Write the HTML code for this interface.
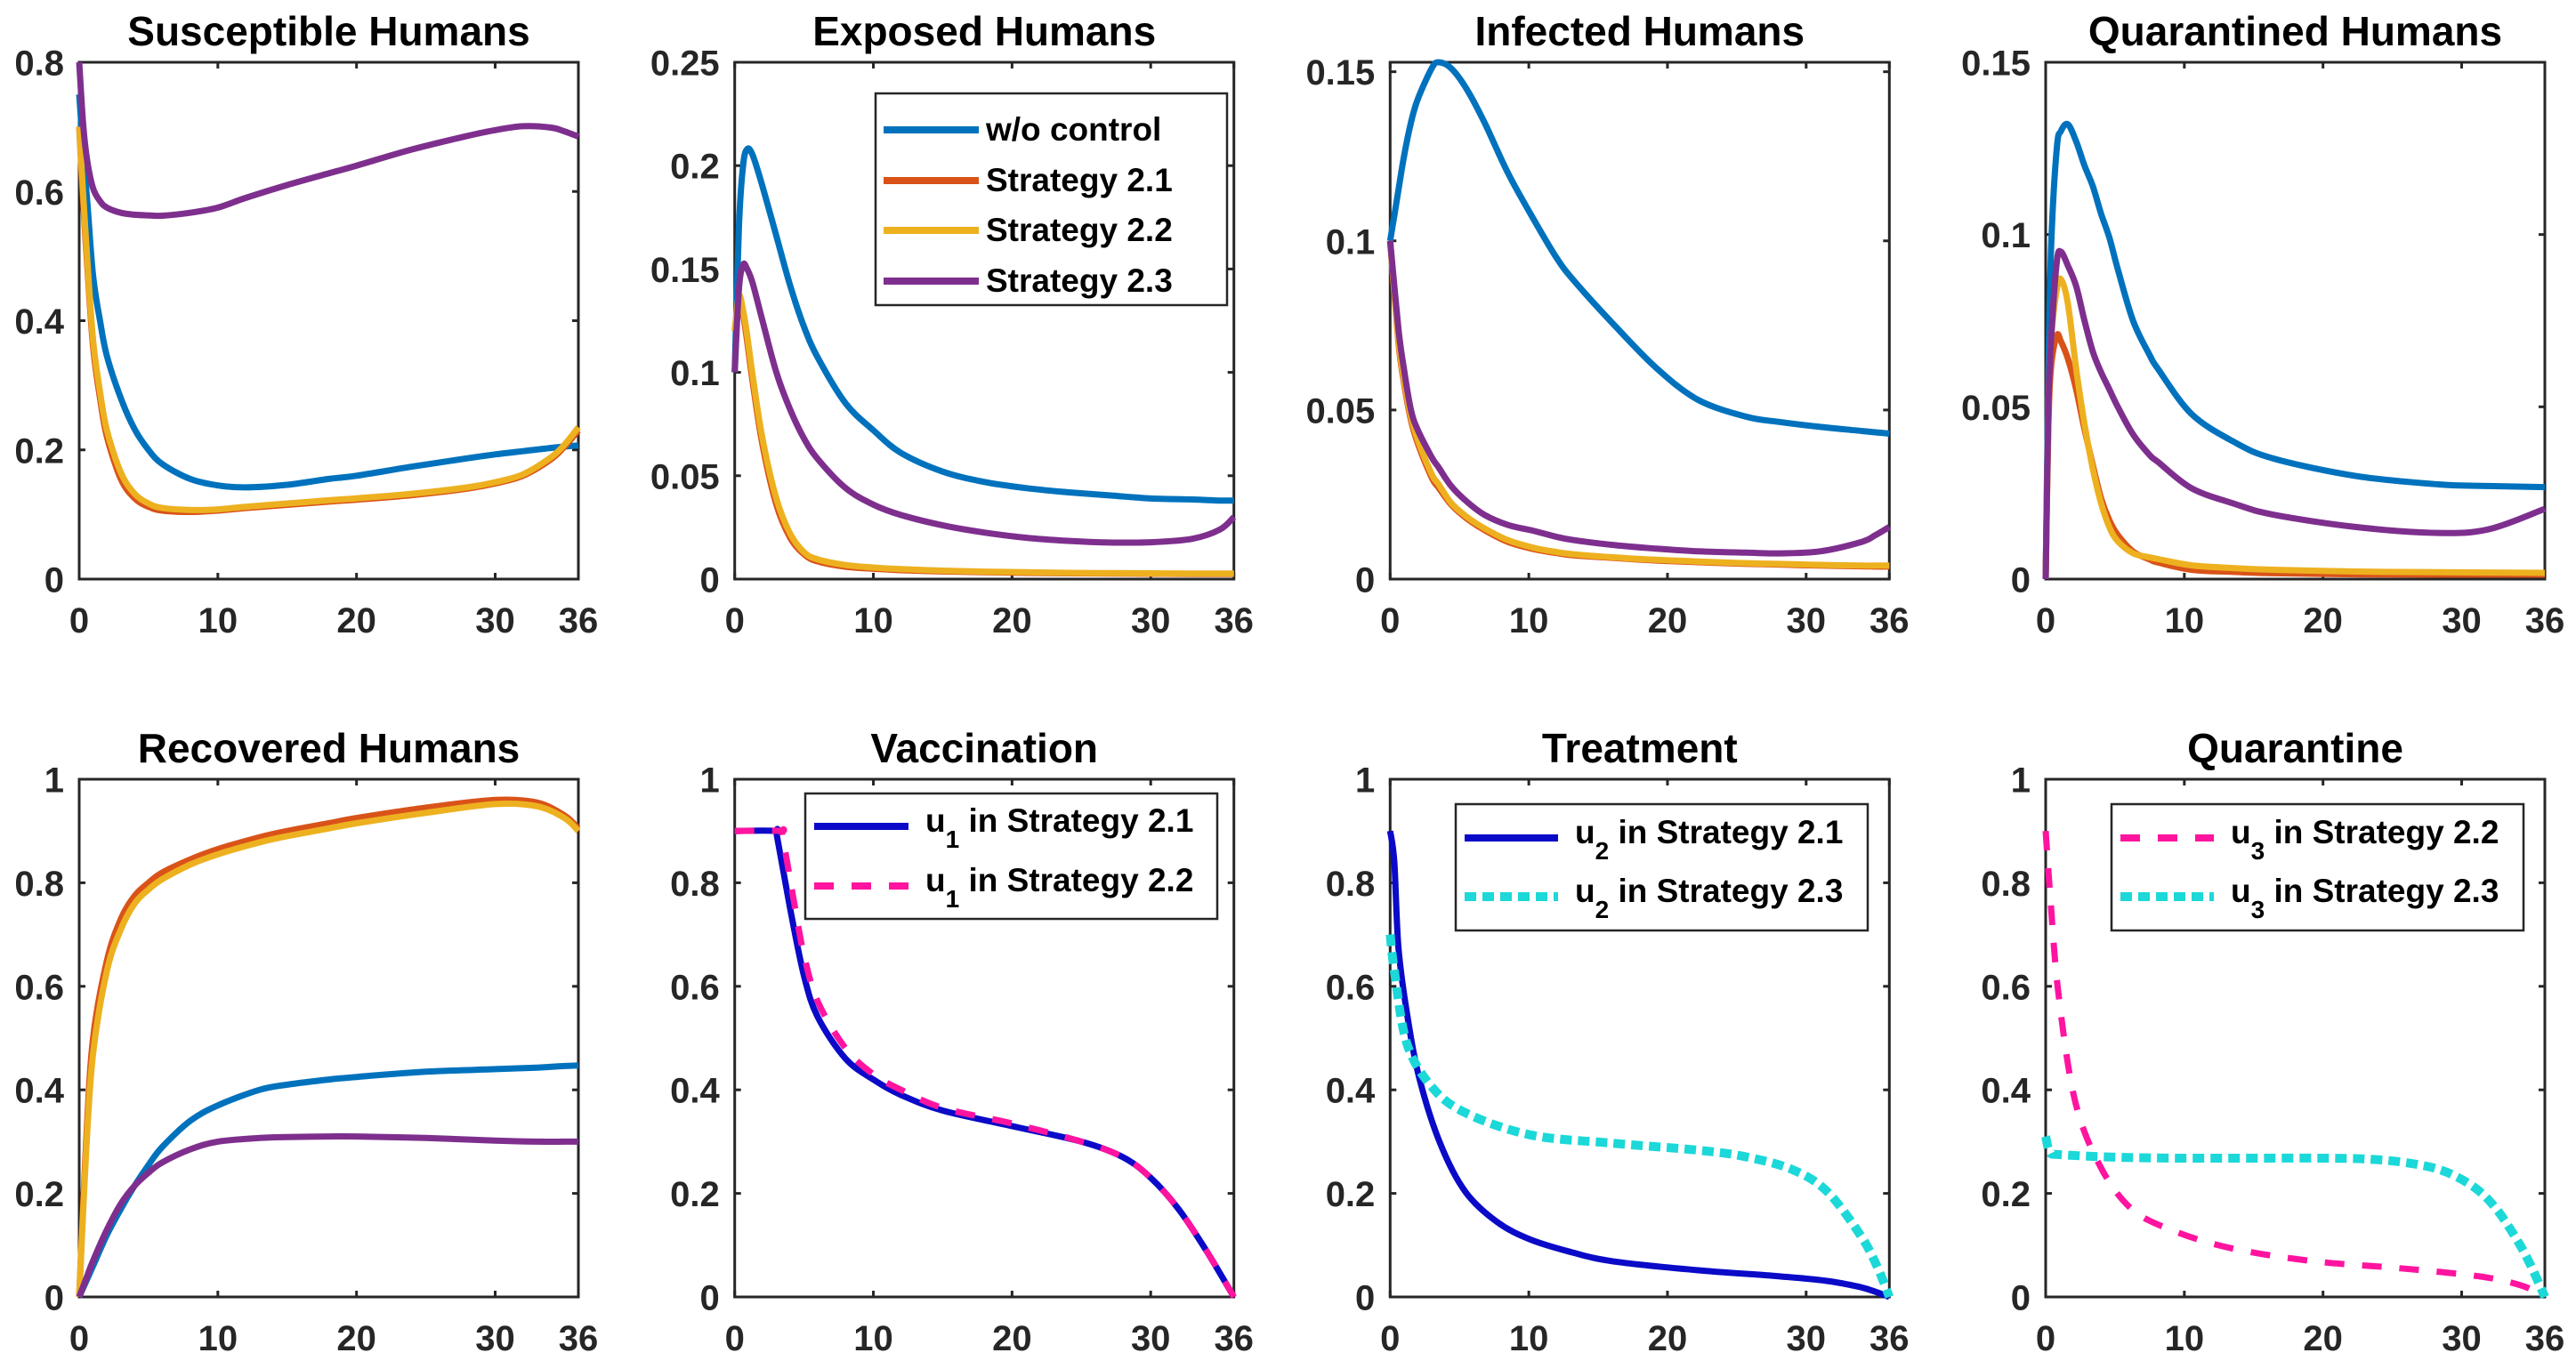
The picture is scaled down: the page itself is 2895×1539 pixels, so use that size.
<!DOCTYPE html>
<html><head><meta charset="utf-8">
<style>
html,body{margin:0;padding:0;background:#fff;}
svg{display:block;font-family:"Liberation Sans",Arial,sans-serif;font-weight:bold;}
</style></head>
<body>
<svg id="fig" width="2895" height="1539" viewBox="0 0 2895 1539" xmlns="http://www.w3.org/2000/svg"></svg>
<script>
// ---------- data ----------
const xTicks = [0,10,20,30,36];
const sT  = [0,0.3,0.6,1,1.5,2,3,4,5,6,8,10,12,15,18,20,24,28,30,32,34,35,36];
const sBlue   = [0.75,0.66,0.58,0.47,0.4,0.345,0.28,0.232,0.2,0.178,0.155,0.145,0.142,0.146,0.155,0.16,0.174,0.187,0.193,0.198,0.203,0.205,0.207];
const sOrange = [0.7,0.58,0.48,0.36,0.28,0.22,0.155,0.125,0.112,0.106,0.104,0.106,0.11,0.115,0.12,0.123,0.13,0.14,0.148,0.16,0.185,0.205,0.23];
const sYellow = [0.7,0.59,0.49,0.37,0.29,0.23,0.165,0.132,0.117,0.11,0.107,0.108,0.112,0.117,0.122,0.125,0.132,0.142,0.15,0.162,0.188,0.208,0.235];
const sPurple = [0.8,0.7,0.645,0.605,0.585,0.575,0.567,0.564,0.563,0.5625,0.567,0.575,0.59,0.61,0.628,0.64,0.665,0.686,0.695,0.701,0.699,0.693,0.685];

const eT = [0,0.3,0.6,0.9,1.3,2,3,4,5,6,8,10,12,15,18,21,24,27,30,33,35,36];
const eBlue   = [0.1,0.17,0.2,0.208,0.205,0.19,0.166,0.142,0.122,0.107,0.085,0.072,0.061,0.052,0.047,0.044,0.042,0.0405,0.039,0.0385,0.038,0.038];
const eOrange = [0.12,0.135,0.128,0.115,0.095,0.065,0.036,0.02,0.012,0.0085,0.006,0.005,0.0043,0.0037,0.0033,0.003,0.0028,0.0027,0.0026,0.0025,0.0025,0.0025];
const eYellow = [0.12,0.137,0.13,0.118,0.098,0.068,0.039,0.022,0.013,0.0095,0.0068,0.0056,0.0048,0.0041,0.0036,0.0033,0.003,0.0029,0.0028,0.0027,0.0027,0.0027];
const ePurple = [0.1,0.14,0.152,0.15,0.143,0.125,0.1,0.082,0.068,0.058,0.044,0.036,0.031,0.026,0.0225,0.02,0.0185,0.0177,0.0178,0.0195,0.024,0.03];

const iT = [0,0.6,1,1.5,2,3,3.5,4.4,5.5,6.8,8.5,10.4,12,13.3,16.3,19.2,22.2,25.7,28,31,34,35,36];
const iBlue   = [0.1,0.115,0.125,0.135,0.142,0.151,0.1528,0.151,0.145,0.135,0.12,0.106,0.095,0.088,0.0745,0.0624,0.053,0.048,0.0465,0.045,0.0438,0.0434,0.043];
const iOrange = [0.1,0.07,0.058,0.047,0.04,0.03,0.027,0.022,0.018,0.0145,0.011,0.0088,0.0077,0.007,0.0062,0.0055,0.005,0.0045,0.0043,0.004,0.0038,0.0037,0.0037];
const iYellow = [0.1,0.071,0.059,0.048,0.041,0.031,0.028,0.0225,0.0185,0.015,0.0115,0.0092,0.008,0.0073,0.0064,0.0057,0.0052,0.0047,0.0045,0.0042,0.004,0.004,0.004];
const iPurple = [0.1,0.074,0.062,0.05,0.044,0.036,0.033,0.0275,0.023,0.019,0.016,0.0142,0.0125,0.0115,0.01,0.009,0.0082,0.0078,0.0076,0.0082,0.011,0.013,0.0154];

const qT = [0,0.2,0.4,0.8,1.1,1.6,2.2,2.8,3.4,4,4.6,5.2,6.3,7.5,8.1,10.5,13.5,16.4,22.4,28.3,32,36];
const qBlue   = [0,0.06,0.097,0.125,0.13,0.132,0.127,0.12,0.114,0.106,0.099,0.09,0.075,0.065,0.061,0.048,0.04,0.035,0.0299,0.0275,0.027,0.0267];
const qOrange = [0,0.045,0.062,0.0707,0.069,0.064,0.055,0.0435,0.033,0.0234,0.017,0.0128,0.008,0.0057,0.0048,0.0027,0.0021,0.0017,0.0014,0.0013,0.0013,0.0013];
const qYellow = [0,0.05,0.07,0.084,0.087,0.08,0.061,0.045,0.032,0.022,0.015,0.011,0.0075,0.0063,0.0058,0.004,0.0032,0.0027,0.0022,0.002,0.0019,0.0018];
const qPurple = [0,0.05,0.07,0.092,0.095,0.091,0.085,0.075,0.066,0.06,0.055,0.05,0.042,0.036,0.034,0.0264,0.022,0.0187,0.0151,0.0134,0.0145,0.0204];

const rT = [0,0.5,1,2,3,4,5,6,8,10,13,15,18,20,25,30,33,35,36];
const rOrange = [0,0.3,0.5,0.65,0.73,0.775,0.8,0.82,0.845,0.865,0.888,0.9,0.915,0.925,0.945,0.96,0.955,0.93,0.905];
const rYellow = [0,0.28,0.47,0.63,0.71,0.76,0.787,0.807,0.835,0.855,0.878,0.89,0.905,0.915,0.935,0.952,0.948,0.925,0.9];
const rBlue   = [0,0.03,0.06,0.12,0.17,0.215,0.255,0.29,0.34,0.37,0.4,0.41,0.42,0.425,0.435,0.44,0.443,0.446,0.447];
const rPurple = [0,0.035,0.07,0.13,0.18,0.215,0.24,0.26,0.285,0.3,0.307,0.309,0.31,0.31,0.307,0.302,0.3,0.3,0.3];

const vT  = [0,2.9,3.05,4,5,6,8,10,12,15,20,25,28,30,32,34,36];
const vU1a = [0.9,0.9,0.89,0.75,0.62,0.54,0.46,0.42,0.39,0.36,0.33,0.3,0.27,0.23,0.17,0.09,0];
const vT2 = [0,3.3,3.45,4.3,5,6,8,10,12,15,20,25,28,30,32,34,36];
const vU1b = [0.9,0.9,0.89,0.76,0.66,0.57,0.48,0.43,0.4,0.365,0.335,0.3,0.27,0.23,0.17,0.09,0];

const tT  = [0,0.3,0.6,1.2,2.1,3.6,5.4,7.7,10.1,13,16,22,28,31.5,33.9,35,36];
const tU2a = [0.9,0.84,0.675,0.55,0.423,0.297,0.204,0.145,0.111,0.087,0.069,0.052,0.04,0.031,0.019,0.01,0];
const tT2 = [0,0.3,1.2,3,5.4,10.1,16,22,25.6,29,31.5,33.9,35.1,36];
const tU2b = [0.7,0.63,0.49,0.406,0.356,0.313,0.297,0.284,0.271,0.246,0.204,0.12,0.06,0];

const qcT = [0,0.3,0.9,2.1,3.9,6.2,9.2,13.4,19.3,25.3,31.2,34.2,35.7];
const qcU3a = [0.9,0.785,0.591,0.381,0.254,0.17,0.128,0.094,0.069,0.056,0.04,0.023,0.005];
const qcT2 = [0,0.3,1,5,10,20,24,27,29,31,32.5,34,35,36];
const qcU3b = [0.31,0.28,0.275,0.27,0.268,0.268,0.265,0.255,0.24,0.21,0.17,0.11,0.06,0];

const colBlue='#0072BD',colOrange='#D95319',colYellow='#EDB120',colPurple='#7E2F8E';
const colU='#0A0AC8',colPink='#FF14A0',colCyan='#1CD8D8';

// ---------- drawing ----------
const NS='http://www.w3.org/2000/svg';
const svg=document.getElementById('fig');
function el(tag,attrs,parent){const e=document.createElementNS(NS,tag);for(const k in attrs)e.setAttribute(k,attrs[k]);(parent||svg).appendChild(e);return e;}
const W=561, lefts=[89,825.7,1562.3,2299], rows=[[70,651],[876,1458]];

function smoothPath(pts){
  let d='M'+pts[0][0].toFixed(1)+','+pts[0][1].toFixed(1);
  for(let i=0;i<pts.length-1;i++){
    const p0=pts[Math.max(0,i-1)],p1=pts[i],p2=pts[i+1],p3=pts[Math.min(pts.length-1,i+2)];
    const c1=[p1[0]+(p2[0]-p0[0])/6,p1[1]+(p2[1]-p0[1])/6];
    const c2=[p2[0]-(p3[0]-p1[0])/6,p2[1]-(p3[1]-p1[1])/6];
    d+=' C'+c1[0].toFixed(1)+','+c1[1].toFixed(1)+' '+c2[0].toFixed(1)+','+c2[1].toFixed(1)+' '+p2[0].toFixed(1)+','+p2[1].toFixed(1);
  }
  return d;
}

function panel(idx,row,title,ymax,yTicks,yLabels,series,legend){
  const x0=lefts[idx],x1=x0+W,y0=rows[row][0],y1=rows[row][1];
  const g=el('g',{});
  
  
  const xs=t=>x0+t/36*W, ys=v=>y1-v/ymax*(y1-y0);
  const tt=el('text',{x:(x0+x1)/2,y:y0-19,'text-anchor':'middle','font-size':46,fill:'#000'},g);
  tt.textContent=title;
  
  
  // axes box
  const box=el('rect',{x:x0,y:y0,width:W,height:y1-y0,fill:'none',stroke:'#262626','stroke-width':3},g);
  
  
  xTicks.forEach(t=>{
    const x=xs(t);
    el('line',{x1:x,y1:y1,x2:x,y2:y1-7,stroke:'#262626','stroke-width':3},g);
    el('line',{x1:x,y1:y0,x2:x,y2:y0+7,stroke:'#262626','stroke-width':3},g);
    const l=el('text',{x:x,y:y1+60,'text-anchor':'middle','font-size':40,fill:'#262626'},g);
    l.textContent=t;
    
    
  });
  yTicks.forEach((v,i)=>{
    const y=ys(v);
    el('line',{x1:x0,y1:y,x2:x0+7,y2:y,stroke:'#262626','stroke-width':3},g);
    el('line',{x1:x1,y1:y,x2:x1-7,y2:y,stroke:'#262626','stroke-width':3},g);
    const l=el('text',{x:x0-17,y:y+14.5,'text-anchor':'end','font-size':40,fill:'#262626'},g);
    l.textContent=yLabels[i];
    
    
  });
  const cp=el('clipPath',{id:'cp'+idx+row},g);
  el('rect',{x:x0-6,y:y0-6,width:W+12,height:y1-y0+12},cp);
  const sg=el('g',{'clip-path':'url(#cp'+idx+row+')'},g);
  series.forEach(s=>{
    const pts=s.t.map((t,i)=>[xs(t),ys(s.v[i])]);
    const p=el('path',{d:smoothPath(pts),fill:'none',stroke:s.c,'stroke-width':s.w||7,'stroke-linejoin':'round'},sg);
    if(s.dash)p.setAttribute('stroke-dasharray',s.dash);
    
    
  });
  if(legend){
    const lg=el('g',{},g);
    
    
    el('rect',{x:legend.x,y:legend.y,width:legend.w,height:legend.h,fill:'#fff',stroke:'#262626','stroke-width':2.5},lg);
    legend.items.forEach((it,i)=>{
      const ly=legend.ly[i];
      const ln=el('line',{x1:legend.lx0,y1:ly,x2:legend.lx1,y2:ly,stroke:it.c,'stroke-width':it.w||8},lg);
      if(it.dash)ln.setAttribute('stroke-dasharray',it.dash);
      
      
      const tx=el('text',{x:legend.tx,y:ly+6+legend.by,'font-size':37,fill:'#000'},lg);
      
      
      if(it.sub){
        const a=el('tspan',{},tx);a.textContent=it.pre;
        const b=el('tspan',{dy:18,'font-size':28},tx);b.textContent=it.sub;
        const c=el('tspan',{dy:-18},tx);c.textContent=' '+it.label;
      } else tx.textContent=it.label;
    });
  }
}

const t4=[0,0.2,0.4,0.6,0.8], t4l=['0','0.2','0.4','0.6','0.8'];
const t1=[0,0.2,0.4,0.6,0.8,1], t1l=['0','0.2','0.4','0.6','0.8','1'];
const t25=[0,0.05,0.1,0.15,0.2,0.25], t25l=['0','0.05','0.1','0.15','0.2','0.25'];
const t15=[0,0.05,0.1,0.15], t15l=['0','0.05','0.1','0.15'];
const four=(T,b,o,y,p)=>[
  {t:T,v:b,c:colBlue,name:'line-wo-control'},
  {t:T,v:o,c:colOrange,name:'line-strategy-2-1'},
  {t:T,v:y,c:colYellow,name:'line-strategy-2-2'},
  {t:T,v:p,c:colPurple,name:'line-strategy-2-3'}];

panel(0,0,'Susceptible Humans',0.8,t4,t4l,four(sT,sBlue,sOrange,sYellow,sPurple));
panel(1,0,'Exposed Humans',0.25,t25,t25l,four(eT,eBlue,eOrange,eYellow,ePurple),
  {x:984,y:105,w:395,h:238,lx0:993,lx1:1100,tx:1108,by:6,ly:[146,203,259,316],items:[
    {c:colBlue,label:'w/o control'},{c:colOrange,label:'Strategy 2.1'},
    {c:colYellow,label:'Strategy 2.2'},{c:colPurple,label:'Strategy 2.3'}]});
panel(2,0,'Infected Humans',0.1528,t15,t15l,four(iT,iBlue,iOrange,iYellow,iPurple));
panel(3,0,'Quarantined Humans',0.15,t15,t15l,four(qT,qBlue,qOrange,qYellow,qPurple));
panel(0,1,'Recovered Humans',1,t1,t1l,four(rT,rBlue,rOrange,rYellow,rPurple));
panel(1,1,'Vaccination',1,t1,t1l,[
  {t:vT,v:vU1a,c:colU,name:'line-u1-strategy-2-1'},
  {t:vT2,v:vU1b,c:colPink,dash:'22 20',name:'line-u1-strategy-2-2'}],
  {x:905,y:892,w:463,h:141,lx0:915,lx1:1021,tx:1040,by:0,ly:[929,996],items:[
    {c:colU,pre:'u',sub:'1',label:'in Strategy 2.1'},
    {c:colPink,dash:'22 20',pre:'u',sub:'1',label:'in Strategy 2.2'}]});
panel(2,1,'Treatment',1,t1,t1l,[
  {t:tT,v:tU2a,c:colU,name:'line-u2-strategy-2-1'},
  {t:tT2,v:tU2b,c:colCyan,w:10,dash:'13 7',name:'line-u2-strategy-2-3'}],
  {x:1636,y:904,w:463,h:142,lx0:1646,lx1:1751,tx:1770,by:0,ly:[942,1008],items:[
    {c:colU,pre:'u',sub:'2',label:'in Strategy 2.1'},
    {c:colCyan,w:10,dash:'13 7',pre:'u',sub:'2',label:'in Strategy 2.3'}]});
panel(3,1,'Quarantine',1,t1,t1l,[
  {t:qcT,v:qcU3a,c:colPink,dash:'22 20',name:'line-u3-strategy-2-2'},
  {t:qcT2,v:qcU3b,c:colCyan,w:10,dash:'13 7',name:'line-u3-strategy-2-3'}],
  {x:2373,y:904,w:463,h:142,lx0:2383,lx1:2488,tx:2507,by:0,ly:[942,1008],items:[
    {c:colPink,dash:'22 20',pre:'u',sub:'3',label:'in Strategy 2.2'},
    {c:colCyan,w:10,dash:'13 7',pre:'u',sub:'3',label:'in Strategy 2.3'}]});
</script>
</body></html>
